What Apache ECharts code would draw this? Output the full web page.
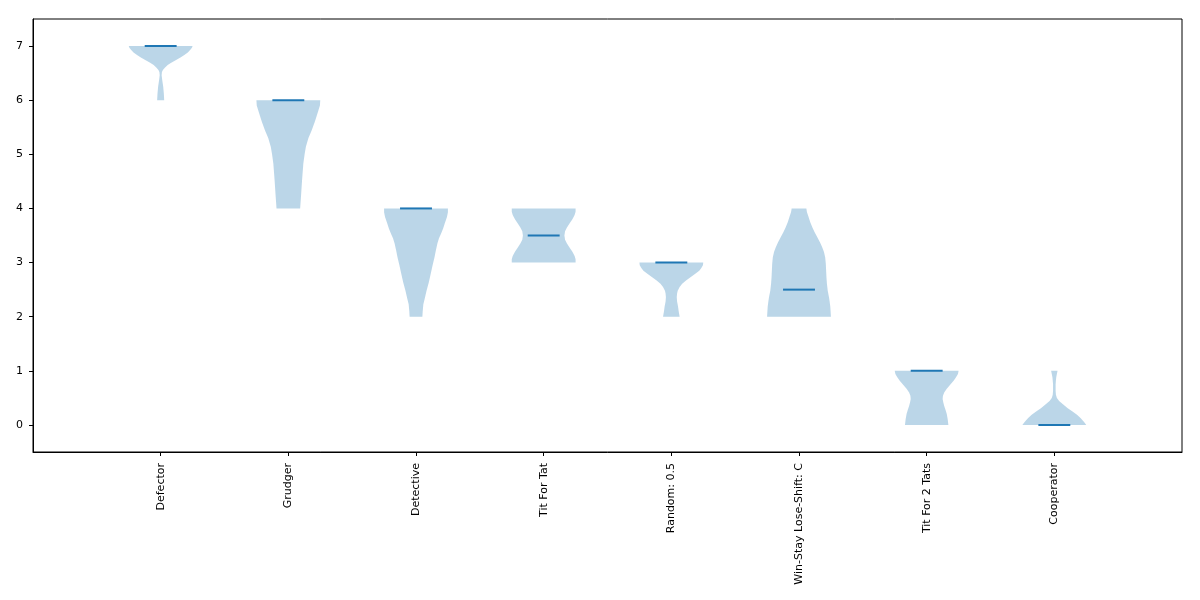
<!DOCTYPE html>
<html>
<head>
<meta charset="utf-8">
<script src="https://cdn.jsdelivr.net/npm/echarts@6/dist/echarts.min.js"></script>
<style>html,body{margin:0;padding:0;background:#fff}#c{width:1200px;height:600px}</style>
</head>
<body>
<div id="c"></div>
<script>
// ---- data ----
const categories = ["Defector", "Grudger", "Detective", "Tit For Tat", "Random: 0.5", "Win-Stay Lose-Shift: C", "Tit For 2 Tats", "Cooperator"];
const medians = [7, 6, 4, 3.5, 3, 2.5, 1, 0];
const yTicks = [0, 1, 2, 3, 4, 5, 6, 7];
// violin profiles: [score, relative half-width (1 = widest)]
const defectorProfile = [[6.0,0.11],[6.12,0.10],[6.25,0.08],[6.37,0.05],[6.46,0.03],[6.52,0.04],[6.56,0.07],[6.6,0.13],[6.65,0.22],[6.69,0.33],[6.74,0.47],[6.79,0.62],[6.83,0.73],[6.88,0.85],[6.93,0.93],[6.97,0.98],[7.0,1.0]];
const grudgerProfile = [[4.0,0.37],[4.25,0.40],[4.52,0.43],[4.83,0.47],[5.0,0.51],[5.14,0.55],[5.3,0.63],[5.44,0.73],[5.6,0.83],[5.75,0.91],[5.9,0.99],[6.0,1.0]];
const detectiveProfile = [[2.0,0.20],[2.1,0.21],[2.23,0.23],[2.35,0.28],[2.48,0.33],[2.63,0.40],[2.79,0.46],[2.95,0.52],[3.10,0.58],[3.22,0.62],[3.35,0.67],[3.45,0.72],[3.53,0.78],[3.63,0.85],[3.72,0.90],[3.84,0.97],[3.93,1.0],[4.0,1.0]];
const titForTatProfile = [[3.0,1.0],[3.06,1.0],[3.12,0.97],[3.2,0.90],[3.28,0.81],[3.35,0.73],[3.42,0.67],[3.5,0.65],[3.58,0.67],[3.65,0.73],[3.72,0.81],[3.8,0.90],[3.88,0.97],[3.94,1.0],[4.0,1.0]];
const randomProfile = [[2.0,0.26],[2.1,0.23],[2.19,0.21],[2.28,0.18],[2.36,0.17],[2.43,0.18],[2.48,0.20],[2.55,0.26],[2.61,0.34],[2.67,0.46],[2.73,0.60],[2.79,0.74],[2.85,0.875],[2.9,0.94],[2.95,0.99],[3.0,1.0]];
const wslsProfile = [[2.0,1.0],[2.1,0.99],[2.19,0.98],[2.28,0.96],[2.36,0.94],[2.48,0.90],[2.61,0.875],[2.73,0.86],[2.85,0.85],[2.98,0.84],[3.10,0.82],[3.2,0.78],[3.28,0.73],[3.37,0.66],[3.47,0.57],[3.56,0.49],[3.65,0.42],[3.75,0.35],[3.84,0.30],[3.93,0.25],[4.0,0.23]];
const titFor2TatsProfile = [[0.0,0.68],[0.1,0.66],[0.2,0.63],[0.28,0.59],[0.35,0.55],[0.42,0.52],[0.48,0.50],[0.54,0.51],[0.6,0.55],[0.67,0.63],[0.75,0.75],[0.82,0.85],[0.88,0.92],[0.94,0.98],[1.0,1.0]];
const cooperatorProfile = [[0.0,1.0],[0.04,0.95],[0.08,0.89],[0.13,0.82],[0.19,0.71],[0.25,0.57],[0.31,0.42],[0.38,0.27],[0.44,0.15],[0.5,0.08],[0.56,0.05],[0.63,0.04],[0.75,0.04],[0.82,0.05],[0.88,0.06],[0.94,0.08],[1.0,0.10]];
const profiles = [defectorProfile, grudgerProfile, detectiveProfile, titForTatProfile, randomProfile, wslsProfile, titFor2TatsProfile, cooperatorProfile];

// ---- chart ----
const HALF = 0.25;      // max violin half-width in x units
const MED_HALF = 0.125; // median line half-length
const font = { fontFamily: "DejaVu Sans", fontSize: 11, color: "#000" };

const chart = echarts.init(document.getElementById("c"), null, { renderer: "canvas" });
chart.setOption({
  animation: false,
  backgroundColor: "#fff",
  grid: { left: 33, right: 18, top: 19, bottom: 148, show: true, borderColor: "#000", borderWidth: 1, backgroundColor: "transparent" },
  xAxis: {
    type: "value", min: 0, max: 9, interval: 1,
    axisLine: { show: true, onZero: false, lineStyle: { color: "#000", width: 1 } },
    axisTick: { show: true, length: 4, lineStyle: { color: "#000" }, customValues: categories.map((c, i) => i + 1) },
    axisLabel: Object.assign({ rotate: 90, margin: 11, customValues: categories.map((c, i) => i + 1),
      formatter: v => categories[Math.round(v) - 1] || "" }, font),
    splitLine: { show: false }
  },
  yAxis: {
    type: "value", min: -0.5, max: 7.5,
    axisLine: { show: true, onZero: false, lineStyle: { color: "#000", width: 1 } },
    axisTick: { show: true, length: 4, lineStyle: { color: "#000" }, customValues: yTicks },
    axisLabel: Object.assign({ margin: 10, customValues: yTicks }, font),
    splitLine: { show: false }
  },
  series: [{
    type: "custom",
    data: categories.map((c, i) => [i + 1, medians[i]]),
    encode: { x: 0, y: 1 },
    renderItem: function (params, api) {
      const xc = api.value(0);
      const med = api.value(1);
      const prof = profiles[params.dataIndex];
      const pts = [];
      for (let k = 0; k < prof.length; k++) pts.push(api.coord([xc + prof[k][1] * HALF, prof[k][0]]));
      for (let k = prof.length - 1; k >= 0; k--) pts.push(api.coord([xc - prof[k][1] * HALF, prof[k][0]]));
      const a = api.coord([xc - MED_HALF, med]);
      const b = api.coord([xc + MED_HALF, med]);
      return {
        type: "group",
        children: [
          { type: "polygon", shape: { points: pts },
            style: { fill: "rgba(31,119,180,0.3)", stroke: null } },
          { type: "line", shape: { x1: a[0], y1: a[1], x2: b[0], y2: b[1] },
            style: { stroke: "#1f77b4", lineWidth: 2 } }
        ]
      };
    }
  }]
});
</script>
</body>
</html>
